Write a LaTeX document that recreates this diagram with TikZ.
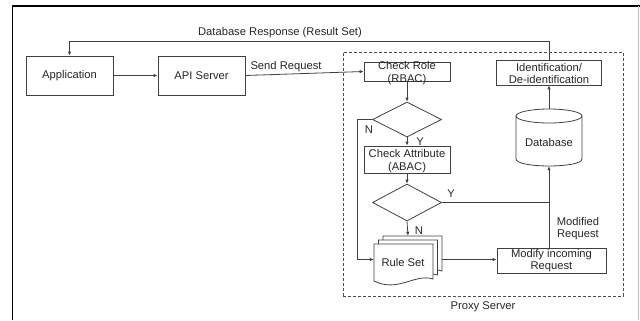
\documentclass[tikz,border=0pt]{standalone}
\usepackage{fontspec}
\setmainfont{Liberation Sans}
\usetikzlibrary{arrows.meta,shapes.geometric}
\begin{document}
\begin{tikzpicture}[x=1bp,y=-1bp,
  every node/.style={font=\fontsize{11.2bp}{12.8bp}\selectfont, text=black!85},
  box/.style={draw=black!75, line width=0.8bp, rectangle, inner sep=0pt},
  txt/.style={align=center, inner sep=0pt},
  dia/.style={draw=black!75, line width=0.8bp, diamond, inner sep=0pt},
  conn/.style={draw=black!75, line width=0.8bp, -{Latex[length=4bp,width=3.5bp]}},
  plain/.style={draw=black!75, line width=0.8bp},
  docshape/.style={draw=black!75, line width=0.8bp, fill=white}]
\useasboundingbox (0,0) rectangle (640,320);
% outer frame
\draw[line width=1.8bp, black] (12.5,320) -- (12.5,6) -- (640,6);
\draw[line width=0.8bp, black!25] (638.5,6) -- (638.5,320);
% proxy area
\node[draw=black!70, dash pattern=on 3bp off 2bp, line width=0.8bp, minimum width=280bp, minimum height=244bp, inner sep=0pt] (proxy) at (483,174) {};
\node[anchor=north, inner sep=0pt] (proxylbl) at ([yshift=-5bp]proxy.south) {Proxy Server};
% boxes
\node[box, minimum width=87bp, minimum height=39bp] (app) at (69.5,75.5) {Application};
\node[box, minimum width=87bp, minimum height=39bp] (api) at (201.5,75.5) {API Server};
\node[box, minimum width=86bp, minimum height=19bp] (role) at (407,71.5) {};
\node[txt] (roletxt) at ([yshift=-1.5bp]role.center) {Check Role\\(RBAC)};
\node[dia, minimum width=69bp, minimum height=35bp] (d1) at (407,119.5) {};
\node[box, minimum width=86bp, minimum height=27bp] (attr) at (407,159.5) {};
\node[txt] (attrtxt) at ([yshift=-1.5bp]attr.center) {Check Attribute\\(ABAC)};
\node[dia, minimum width=69bp, minimum height=37bp] (d2) at (407,202.5) {};
\node[box, minimum width=105bp, minimum height=25bp] (ident) at (549,72.5) {};
\node[txt] (identtxt) at ([yshift=-1bp]ident.center) {Identification/\\De-identification};
\node[box, minimum width=109bp, minimum height=25bp] (mod) at (551.5,260.5) {};
\node[txt] (modtxt) at ([yshift=0bp]mod.center) {Modify incoming\\Request};
% database cylinder
\node[minimum width=66bp, minimum height=57bp, inner sep=0pt] (db) at (549,137.5) {};
\draw[plain] (516,116) -- (516,159) .. controls (516,168.3) and (582,168.3) .. (582,159) -- (582,116);
\draw[plain] (549,116) ellipse [x radius=33, y radius=7];
\node (dbtxt) at (549,142) {Database};
% rule set (stacked documents)
\node[minimum width=68bp, minimum height=47bp, inner sep=0pt] (rs) at (408,259.5) {};
\foreach \dx/\dy in {9/-8, 4.5/-4, 0/0}{
  \draw[docshape, shift={(\dx,\dy)}] (374,244) -- (433,244) -- (433,279) .. controls (415,273) and (398,293) .. (374,281) -- cycle;
}
\node (rstxt) at (403,262) {Rule Set};
% connectors
\draw[conn] (app.east) -- (api.west);
\draw[conn] (api.east) -- (role.west);
\draw[conn] (role.south) -- (d1.north);
\draw[conn] (d1.south) -- (attr.north);
\draw[conn] (attr.south) -- (d2.north);
\draw[conn] (d2.south) -- (rs.north);
\draw[conn] (d1.west) -- ++(-15,0) |- (rs.west);
\draw[plain] (d2.east) -- (d2.east -| db.south);
\draw[conn] (rs.east) -- (rs.east -| mod.west);
\draw[conn] (db.south |- mod.north) -- (db.south);
\draw[conn] (db.north) -- (ident.south);
\draw[conn] (ident.north) -- ++(0,-18) -| (app.north);
% labels
\node (resp) at (280,33) {Database Response (Result Set)};
\node (send) at (286,67) {Send Request};
\node (n1) at (369,130) {N};
\node (y1) at (420,142) {Y};
\node (y2) at (451,194) {Y};
\node (n2) at (419,231) {N};
\node[txt] (modreq) at (578,228.5) {Modified\\Request};
\end{tikzpicture}
\end{document}
